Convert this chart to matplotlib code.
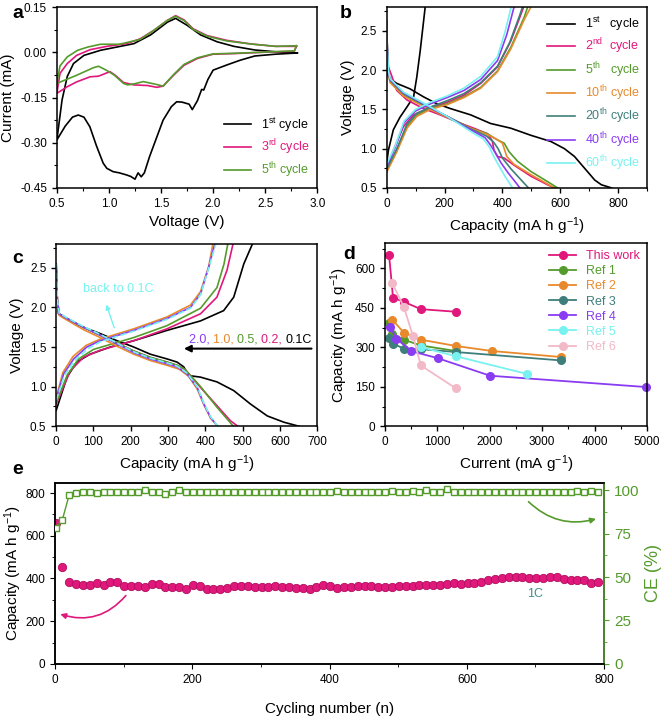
import matplotlib
matplotlib.use("Agg")
from matplotlib import pyplot as plt
from matplotlib.ticker import AutoMinorLocator, MultipleLocator

plt.rcParams['font.family'] = ['Liberation Sans', 'DejaVu Sans']
plt.rcParams['mathtext.fontset'] = 'custom'
plt.rcParams['mathtext.rm'] = 'Liberation Sans'
plt.rcParams['mathtext.it'] = 'Liberation Sans:italic'
plt.rcParams['axes.linewidth'] = 1.1
plt.rcParams['xtick.labelsize'] = 8.5
plt.rcParams['ytick.labelsize'] = 8.5

PINK = '#e0187c'
GREEN = '#559b2c'
ORANGE = '#e88a2c'
TEAL = '#3f7f7b'
PURPLE = '#8a3cf2'
CYAN = '#78f2f0'
LPINK = '#f2b9c8'

# ---- panel a : CV curves (voltage V, current mA)
cv1_v = [2.81, 2.6, 2.4, 2.26, 2.13, 2.0, 1.95, 1.91, 1.89, 1.85, 1.80, 1.77, 1.70, 1.65, 1.60, 1.52, 1.45,
         1.39, 1.34, 1.31, 1.28, 1.25, 1.21, 1.17, 1.10, 1.04, 0.98, 0.945, 0.88, 0.817, 0.76, 0.705, 0.65, 0.58, 0.5,
         0.55, 0.60, 0.66, 0.76, 0.92, 1.08, 1.24, 1.40, 1.56, 1.64, 1.75, 1.88, 2.04, 2.2, 2.4, 2.6, 2.8]
cv1_i = [-0.002, -0.006, -0.012, -0.026, -0.042, -0.059, -0.09, -0.125, -0.123, -0.16, -0.19, -0.172, -0.165, -0.164, -0.18, -0.225, -0.29,
         -0.346, -0.40, -0.413, -0.40, -0.421, -0.412, -0.407, -0.40, -0.396, -0.385, -0.368, -0.31, -0.247, -0.215, -0.208, -0.215, -0.245, -0.291,
         -0.158, -0.08, -0.037, -0.01, 0.007, 0.018, 0.029, 0.058, 0.10, 0.113, 0.09, 0.058, 0.035, 0.02, 0.008, 0.002, -0.002]
cv3_v = [2.8, 2.78, 2.52, 2.2, 2.0, 1.85, 1.72, 1.62, 1.52, 1.46, 1.37, 1.24, 1.14, 1.06, 1.01, 0.9, 0.82, 0.69, 0.60, 0.5,
         0.53, 0.60, 0.69, 0.82, 0.98, 1.17, 1.30, 1.43, 1.56, 1.64, 1.72, 1.81, 1.94, 2.13, 2.36, 2.6, 2.8]
cv3_i = [0.02, 0.004, 0.001, -0.004, -0.006, -0.02, -0.043, -0.076, -0.112, -0.116, -0.11, -0.108, -0.1, -0.076, -0.064, -0.079, -0.081, -0.098, -0.114, -0.136,
         -0.07, -0.037, -0.01, 0.009, 0.02, 0.029, 0.045, 0.073, 0.106, 0.122, 0.108, 0.078, 0.056, 0.04, 0.028, 0.02, 0.02]
cv5_v = [2.8, 2.78, 2.5, 2.2, 2.0, 1.85, 1.72, 1.62, 1.52, 1.45, 1.33, 1.25, 1.18, 1.14, 1.05, 0.98, 0.90, 0.85, 0.69, 0.5,
         0.53, 0.60, 0.70, 0.8, 0.92, 1.1, 1.30, 1.43, 1.56, 1.64, 1.72, 1.81, 1.94, 2.13, 2.36, 2.6, 2.8]
cv5_i = [0.022, 0.005, 0.001, -0.003, -0.005, -0.018, -0.04, -0.074, -0.112, -0.106, -0.097, -0.104, -0.108, -0.103, -0.075, -0.06, -0.046, -0.051, -0.076, -0.103,
         -0.045, -0.015, 0.007, 0.018, 0.027, 0.027, 0.043, 0.073, 0.106, 0.12, 0.106, 0.076, 0.054, 0.038, 0.028, 0.02, 0.022]

# ---- panel b : charge/discharge at 0.1C (capacity mAh/g, voltage V)
b1_dis_c = [0, 5, 15, 35, 81, 127, 174, 220, 290, 359, 429, 498, 568, 614, 649, 684, 719, 742, 777]
b1_dis_v = [2.0, 1.93, 1.88, 1.83, 1.76, 1.66, 1.57, 1.51, 1.43, 1.32, 1.26, 1.17, 1.09, 1.0, 0.9, 0.75, 0.6, 0.54, 0.5]
b1_chg_c = [0, 6, 23, 46, 70, 93, 104, 116, 133]
b1_chg_v = [0.82, 0.98, 1.24, 1.40, 1.53, 1.66, 1.91, 2.25, 2.8]
b2_dis_c = [0, 2, 6, 17, 35, 70, 127, 185, 243, 301, 348, 365, 371, 383, 406, 440, 498, 556, 580]
b2_dis_v = [2.62, 2.3, 2.04, 1.93, 1.74, 1.62, 1.51, 1.43, 1.34, 1.26, 1.19, 1.1, 0.98, 0.9, 0.88, 0.79, 0.65, 0.54, 0.5]
b2_chg_c = [0, 23, 58, 93, 151, 209, 267, 325, 383, 429, 464, 473]
b2_chg_v = [0.73, 0.98, 1.28, 1.43, 1.52, 1.59, 1.68, 1.83, 2.04, 2.37, 2.71, 2.8]
b5_dis_c = [0, 2, 6, 12, 58, 127, 209, 290, 348, 383, 406, 423, 452, 498, 556, 591]
b5_dis_v = [2.62, 2.3, 1.95, 1.85, 1.68, 1.55, 1.41, 1.26, 1.19, 1.11, 1.07, 0.96, 0.84, 0.71, 0.58, 0.5]
b5_chg_c = [0, 35, 70, 104, 151, 209, 267, 325, 383, 429, 475, 487]
b5_chg_v = [0.72, 0.98, 1.28, 1.43, 1.51, 1.57, 1.66, 1.78, 1.99, 2.29, 2.67, 2.8]
b10_dis_c = [0, 2, 6, 12, 58, 127, 209, 290, 348, 380, 400, 415, 440, 498, 556, 578]
b10_dis_v = [2.62, 2.3, 1.95, 1.84, 1.67, 1.54, 1.40, 1.26, 1.18, 1.12, 1.07, 0.90, 0.80, 0.67, 0.55, 0.5]
b10_chg_c = [0, 35, 70, 104, 151, 209, 267, 325, 383, 429, 475, 498]
b10_chg_v = [0.70, 0.96, 1.26, 1.41, 1.50, 1.56, 1.65, 1.77, 1.98, 2.27, 2.64, 2.8]
b20_dis_c = [0, 2, 6, 12, 58, 127, 209, 290, 345, 370, 385, 400, 430, 470, 490]
b20_dis_v = [2.62, 2.3, 1.97, 1.87, 1.70, 1.56, 1.41, 1.25, 1.16, 1.08, 1.0, 0.88, 0.74, 0.58, 0.5]
b20_chg_c = [0, 35, 70, 104, 151, 209, 267, 325, 383, 425, 460, 469]
b20_chg_v = [0.74, 1.0, 1.31, 1.45, 1.53, 1.61, 1.70, 1.84, 2.05, 2.35, 2.70, 2.8]
b40_dis_c = [0, 2, 6, 12, 58, 127, 209, 290, 340, 360, 375, 395, 420, 450, 460]
b40_dis_v = [2.62, 2.3, 1.98, 1.88, 1.71, 1.57, 1.41, 1.24, 1.14, 1.04, 0.95, 0.82, 0.69, 0.55, 0.5]
b40_chg_c = [0, 30, 60, 100, 151, 209, 267, 325, 383, 415, 440]
b40_chg_v = [0.78, 1.02, 1.33, 1.48, 1.57, 1.65, 1.74, 1.88, 2.12, 2.45, 2.8]
b60_dis_c = [0, 2, 6, 12, 58, 127, 209, 290, 335, 355, 370, 385, 410, 435]
b60_dis_v = [2.62, 2.3, 1.99, 1.89, 1.72, 1.58, 1.41, 1.22, 1.12, 1.02, 0.90, 0.80, 0.64, 0.5]
b60_chg_c = [0, 30, 60, 100, 151, 209, 267, 325, 383, 410, 430]
b60_chg_v = [0.80, 1.04, 1.35, 1.50, 1.59, 1.67, 1.77, 1.92, 2.17, 2.50, 2.8]

# ---- panel c : rate curves
c01_dis_c = [0, 3, 6, 29, 73, 118, 163, 208, 252, 297, 324, 342, 355, 387, 431, 476, 521, 566, 611, 651]
c01_dis_v = [2.5, 2.1, 1.92, 1.86, 1.75, 1.67, 1.58, 1.50, 1.41, 1.35, 1.31, 1.25, 1.14, 1.12, 1.06, 0.95, 0.78, 0.63, 0.55, 0.5]
c01_chg_c = [0, 29, 55, 91, 145, 208, 297, 387, 449, 476, 503, 526]
c01_chg_v = [0.70, 1.12, 1.31, 1.41, 1.50, 1.58, 1.71, 1.83, 1.96, 2.13, 2.55, 2.8]
c02_dis_c = [0, 3, 8, 29, 73, 118, 163, 208, 252, 297, 324, 345, 360, 387, 431, 467, 487]
c02_dis_v = [2.55, 2.1, 1.92, 1.86, 1.75, 1.65, 1.55, 1.45, 1.37, 1.31, 1.27, 1.22, 1.14, 0.99, 0.76, 0.57, 0.5]
c02_chg_c = [0, 38, 73, 118, 208, 297, 387, 431, 458, 474]
c02_chg_v = [0.78, 1.2, 1.37, 1.46, 1.58, 1.73, 1.92, 2.13, 2.47, 2.8]
c05_dis_c = [0, 3, 8, 29, 73, 118, 163, 208, 252, 297, 324, 345, 360, 387, 431, 475]
c05_dis_v = [2.55, 2.1, 1.92, 1.86, 1.75, 1.65, 1.55, 1.45, 1.37, 1.31, 1.27, 1.22, 1.14, 1.0, 0.74, 0.5]
c05_chg_c = [0, 30, 60, 100, 208, 297, 387, 431, 450, 460]
c05_chg_v = [0.80, 1.15, 1.35, 1.47, 1.62, 1.77, 1.99, 2.25, 2.55, 2.8]
c10_dis_c = [0, 3, 8, 29, 73, 118, 163, 208, 252, 297, 330, 355, 378, 396, 414, 433]
c10_dis_v = [2.55, 2.1, 1.90, 1.84, 1.72, 1.62, 1.51, 1.41, 1.33, 1.27, 1.22, 1.13, 0.97, 0.77, 0.60, 0.5]
c10_chg_c = [0, 18, 45, 80, 118, 208, 297, 360, 387, 409, 420]
c10_chg_v = [0.86, 1.18, 1.38, 1.52, 1.60, 1.73, 1.88, 2.03, 2.20, 2.52, 2.8]
c20_dis_c = [0, 3, 8, 29, 73, 118, 163, 208, 252, 297, 324, 351, 378, 396, 414, 433]
c20_dis_v = [2.55, 2.1, 1.92, 1.86, 1.75, 1.65, 1.54, 1.43, 1.35, 1.29, 1.25, 1.16, 0.99, 0.78, 0.61, 0.5]
c20_chg_c = [0, 20, 47, 82, 118, 208, 297, 360, 387, 409, 425]
c20_chg_v = [0.85, 1.16, 1.35, 1.50, 1.58, 1.71, 1.86, 2.0, 2.17, 2.51, 2.8]
cb_dis_c = [0, 3, 8, 29, 73, 118, 163, 208, 252, 297, 324, 351, 378, 396, 414, 433]
cb_dis_v = [2.55, 2.1, 1.93, 1.87, 1.76, 1.66, 1.55, 1.44, 1.36, 1.30, 1.26, 1.17, 1.0, 0.79, 0.62, 0.5]
cb_chg_c = [0, 22, 50, 85, 120, 208, 297, 360, 387, 409, 428]
cb_chg_v = [0.83, 1.14, 1.33, 1.48, 1.57, 1.70, 1.85, 1.99, 2.16, 2.50, 2.8]

# ---- panel d : rate comparison (current mA/g, capacity mAh/g)
tw_x = [83, 159, 363, 688, 1357]
tw_y = [651, 488, 473, 445, 435]
r1_x = [83, 146, 363, 688, 1357]
r1_y = [393, 352, 329, 307, 286]
r2_x = [146, 363, 688, 1357, 2038, 3363]
r2_y = [405, 356, 329, 305, 286, 263]
r3_x = [83, 159, 363, 688, 1357, 3363]
r3_y = [335, 314, 295, 293, 282, 250]
r4_x = [108, 223, 510, 1006, 2006, 4981]
r4_y = [377, 333, 285, 259, 192, 149]
r5_x = [688, 1357, 2707]
r5_y = [301, 266, 199]
r6_x = [146, 363, 541, 688, 1357]
r6_y = [543, 454, 342, 231, 144]

# ---- panel e : long cycling at 1C
cyc = [2, 11] + list(range(21, 800, 10))
cap_e = [660, 452,
         384, 374, 368, 370, 379, 370, 382, 382, 366, 366,
         365, 359, 373, 373, 359, 359, 359, 352, 370, 366,
         352, 352, 352, 354, 365, 366, 365, 359, 362, 359,
         363, 359, 359, 356, 357, 352, 362, 371, 366, 357,
         359, 362, 366, 365, 363, 359, 359, 359, 365, 366,
         366, 370, 370, 370, 371, 376, 377, 376, 377, 380,
         384, 393, 399, 401, 405, 407, 408, 404, 401, 401,
         407, 405, 398, 393, 393, 393, 380, 384]
ce_e = [78.6, 83.2,
        97.6, 98.6, 98.8, 98.8, 98.4, 98.8, 98.8, 98.8, 98.8, 98.8,
        98.8, 100.2, 98.9, 98.9, 97.9, 98.9, 100.2, 98.9, 98.9, 98.9,
        98.9, 98.9, 98.9, 99.2, 99.2, 98.9, 98.9, 99.2, 98.9, 98.9,
        98.9, 98.9, 98.9, 98.9, 98.9, 99.2, 99.2, 99.2, 99.0, 99.6,
        99.2, 99.2, 98.9, 98.9, 98.9, 98.9, 99.2, 99.6, 98.9, 98.9,
        99.4, 99.0, 100.2, 99.3, 98.9, 100.6, 98.9, 98.9, 98.9, 98.9,
        98.9, 98.9, 98.9, 98.9, 98.9, 98.9, 99.0, 99.0, 99.0, 99.0,
        99.0, 99.0, 99.0, 99.0, 99.6, 99.0, 99.6, 98.9]

fig = plt.figure(figsize=(6.61, 7.2), dpi=100)
LAB = 11
LEGFS = 9


def minor(ax):
    ax.xaxis.set_minor_locator(AutoMinorLocator(2))
    ax.yaxis.set_minor_locator(AutoMinorLocator(2))
    ax.tick_params(which='major', length=3.5, width=1)
    ax.tick_params(which='minor', length=2, width=0.8)


# a
ax = fig.add_axes([0.086, 0.739, 0.394, 0.251])
ax.plot(cv1_v, cv1_i, color='black', lw=1.2, label=r'1$^{\rm st}$ cycle')
ax.plot(cv3_v, cv3_i, color=PINK, lw=1.2, label=r'3$^{\rm rd}$ cycle')
ax.plot(cv5_v, cv5_i, color=GREEN, lw=1.2, label=r'5$^{\rm th}$ cycle')
ax.set_xlim(0.5, 3.0)
ax.set_ylim(-0.45, 0.15)
ax.set_yticks([-0.45, -0.30, -0.15, 0.0, 0.15])
ax.set_yticklabels(['-0.45', '-0.30', '-0.15', '0.00', '0.15'])
ax.set_xlabel('Voltage (V)', fontsize=LAB)
ax.set_ylabel('Current (mA)', fontsize=LAB)
minor(ax)
ax.legend(loc='lower right', frameon=False, fontsize=LEGFS, labelcolor='linecolor',
          handlelength=2.2, labelspacing=0.3, borderaxespad=0.2)

# b
ax = fig.add_axes([0.585, 0.739, 0.394, 0.251])
bsets = [(b1_dis_c, b1_dis_v, b1_chg_c, b1_chg_v, 'black', r'1$^{\rm st}$   cycle'),
         (b2_dis_c, b2_dis_v, b2_chg_c, b2_chg_v, PINK, r'2$^{\rm nd}$  cycle'),
         (b5_dis_c, b5_dis_v, b5_chg_c, b5_chg_v, GREEN, r'5$^{\rm th}$   cycle'),
         (b10_dis_c, b10_dis_v, b10_chg_c, b10_chg_v, ORANGE, r'10$^{\rm th}$ cycle'),
         (b20_dis_c, b20_dis_v, b20_chg_c, b20_chg_v, TEAL, r'20$^{\rm th}$ cycle'),
         (b40_dis_c, b40_dis_v, b40_chg_c, b40_chg_v, PURPLE, r'40$^{\rm th}$ cycle'),
         (b60_dis_c, b60_dis_v, b60_chg_c, b60_chg_v, CYAN, r'60$^{\rm th}$ cycle')]
for dc, dv, cc, cv, col, lab in bsets:
    ax.plot(dc, dv, color=col, lw=1.2, label=lab)
    ax.plot(cc, cv, color=col, lw=1.2)
ax.set_xlim(0, 900)
ax.set_ylim(0.5, 2.8)
ax.set_xticks([0, 200, 400, 600, 800])
ax.set_yticks([0.5, 1.0, 1.5, 2.0, 2.5])
ax.set_xlabel(r'Capacity (mA h g$^{-1}$)', fontsize=LAB)
ax.set_ylabel('Voltage (V)', fontsize=LAB)
minor(ax)
ax.legend(loc='upper right', frameon=False, fontsize=LEGFS, labelcolor='linecolor',
          handlelength=2.2, labelspacing=0.3, borderaxespad=0.2)

# c
ax = fig.add_axes([0.085, 0.408, 0.395, 0.253])
csets = [(c01_dis_c, c01_dis_v, c01_chg_c, c01_chg_v, 'black', '-'),
         (c02_dis_c, c02_dis_v, c02_chg_c, c02_chg_v, PINK, '-'),
         (c05_dis_c, c05_dis_v, c05_chg_c, c05_chg_v, GREEN, '-'),
         (c10_dis_c, c10_dis_v, c10_chg_c, c10_chg_v, ORANGE, '-'),
         (c20_dis_c, c20_dis_v, c20_chg_c, c20_chg_v, PURPLE, '-'),
         (cb_dis_c, cb_dis_v, cb_chg_c, cb_chg_v, CYAN, '--')]
for dc, dv, cc, cv, col, ls in csets:
    ax.plot(dc, dv, color=col, lw=1.2, ls=ls)
    ax.plot(cc, cv, color=col, lw=1.2, ls=ls)
ax.set_xlim(0, 700)
ax.set_ylim(0.5, 2.8)
ax.set_xticks([0, 100, 200, 300, 400, 500, 600, 700])
ax.set_yticks([0.5, 1.0, 1.5, 2.0, 2.5])
ax.set_xlabel(r'Capacity (mA h g$^{-1}$)', fontsize=LAB)
ax.set_ylabel('Voltage (V)', fontsize=LAB)
minor(ax)
ax.xaxis.set_minor_locator(AutoMinorLocator(1))
ax.text(72, 2.23, 'back to 0.1C', color=CYAN, fontsize=9, va='center')
ax.annotate('', xy=(132, 2.07), xytext=(158, 1.71),
            arrowprops=dict(arrowstyle='-|>', color=CYAN, lw=1, mutation_scale=7))
ax.annotate('', xy=(335, 1.48), xytext=(692, 1.48),
            arrowprops=dict(arrowstyle='-|>', color='black', lw=1.5, mutation_scale=10))
prev = ax.text(355, 1.59, '2.0, ', color=PURPLE, fontsize=9, va='center')
for s, col in [('1.0, ', ORANGE), ('0.5, ', GREEN), ('0.2, ', PINK), ('0.1C', 'black')]:
    prev = ax.annotate(s, xy=(1, 0), xycoords=prev, va='bottom', color=col, fontsize=9)

# d
ax = fig.add_axes([0.582, 0.408, 0.397, 0.254])
dsets = [(tw_x, tw_y, PINK, 'This work'), (r1_x, r1_y, GREEN, 'Ref 1'),
         (r2_x, r2_y, ORANGE, 'Ref 2'), (r3_x, r3_y, TEAL, 'Ref 3'),
         (r4_x, r4_y, PURPLE, 'Ref 4'), (r5_x, r5_y, CYAN, 'Ref 5'),
         (r6_x, r6_y, LPINK, 'Ref 6')]
for xs, ys, col, lab in dsets:
    ax.plot(xs, ys, '-o', color=col, lw=1.3, ms=5.5, label=lab, clip_on=False)
ax.set_xlim(0, 5000)
ax.set_ylim(0, 695)
ax.set_yticks([0, 150, 300, 450, 600])
ax.set_xlabel(r'Current (mA g$^{-1}$)', fontsize=LAB)
ax.set_ylabel(r'Capacity (mA h g$^{-1}$)', fontsize=LAB)
minor(ax)
ax.legend(loc='upper right', frameon=False, fontsize=LEGFS, labelcolor='linecolor',
          handlelength=2.2, labelspacing=0.25, borderaxespad=0.15)

# e
ax = fig.add_axes([0.083, 0.078, 0.831, 0.251])
ax2 = ax.twinx()
ax.scatter(cyc, cap_e, s=36, color=PINK, edgecolor='#b0105e', linewidth=0.6, zorder=3)
ax2.plot(cyc, ce_e, '-s', ms=5, mfc='white', mec=GREEN, mew=1.0, color=GREEN, lw=1.0, zorder=3)
ax.set_xlim(0, 800)
ax.set_ylim(0, 847)
ax2.set_ylim(0, 104.2)
ax.set_xticks([0, 200, 400, 600, 800])
ax.set_yticks([0, 200, 400, 600, 800])
ax2.set_yticks([0, 25, 50, 75, 100])
ax.xaxis.set_minor_locator(MultipleLocator(100))
ax.yaxis.set_minor_locator(MultipleLocator(100))
ax2.yaxis.set_minor_locator(MultipleLocator(12.5))
ax.tick_params(which='major', length=3.5)
ax.tick_params(which='minor', length=2)
ax2.tick_params(which='major', length=3.5, colors=GREEN, labelsize=11)
ax2.tick_params(which='minor', length=2, colors=GREEN)
ax2.spines['right'].set_color(GREEN)
ax.set_xlabel('Cycling number (n)', fontsize=LAB, labelpad=12)
ax.set_ylabel(r'Capacity (mA h g$^{-1}$)', fontsize=LAB, labelpad=1)
ax2.set_ylabel('CE (%)', fontsize=13, color=GREEN)
ax.text(699, 327, '1C', color='#3f8f86', fontsize=9, ha='center', va='center')
ax.annotate('', xy=(4, 237), xytext=(106, 330),
            arrowprops=dict(arrowstyle='-|>', color=PINK, lw=1.2, mutation_scale=8,
                            connectionstyle='arc3,rad=-0.35'))
ax2.annotate('', xy=(792, 84), xytext=(687, 94.6),
             arrowprops=dict(arrowstyle='-|>', color=GREEN, lw=1.2, mutation_scale=8,
                             connectionstyle='arc3,rad=0.3'))

for lbl, x, y in [('a', 12, 13), ('b', 340, 13), ('c', 12, 258), ('d', 343, 254), ('e', 12, 470)]:
    fig.text(x / 661, 1 - y / 720, lbl, fontsize=14, fontweight='bold', va='center', ha='left')

fig.savefig('out.png', dpi=100)
